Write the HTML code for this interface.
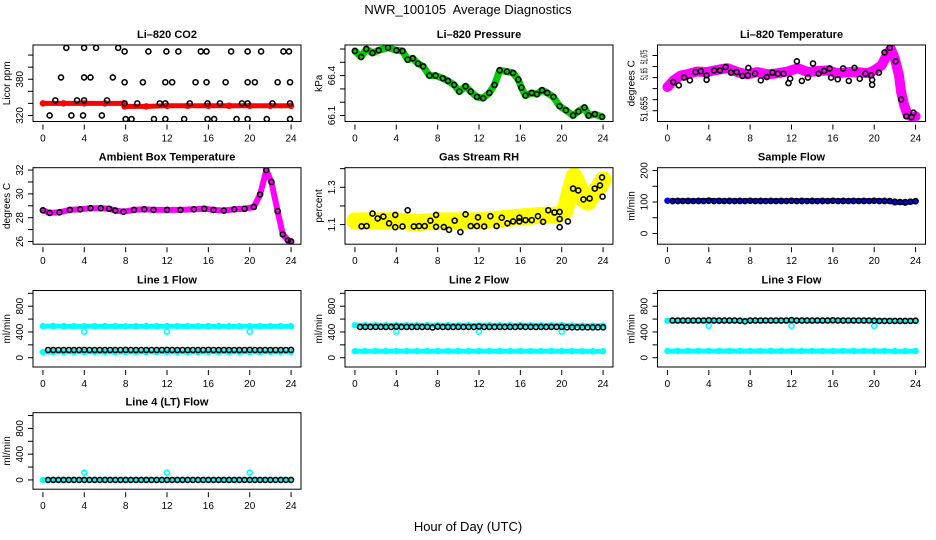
<!DOCTYPE html>
<html><head><meta charset="utf-8"><style>
html,body{margin:0;padding:0;background:#fff;}
svg{display:block;font-family:"Liberation Sans",sans-serif;}
</style></head><body>
<svg id="fig" width="936" height="540" viewBox="0 0 936 540">
<rect x="0" y="0" width="936" height="540" fill="#fff"/>
<text x="468" y="14" text-anchor="middle" font-size="13" xml:space="preserve">NWR_100105  Average Diagnostics</text>
<text x="468" y="531" text-anchor="middle" font-size="13">Hour of Day (UTC)</text>
</svg>
<script>
// ---------- data ----------
const xTicks=[0,4,8,12,16,20,24];
const hourly=[0,1,2,3,4,5,6,7,8,9,10,11,12,13,14,15,16,17,18,19,20,21,22,23,24];
const halfHours=[0.5,1,1.5,2,2.5,3,3.5,4,4.5,5,5.5,6,6.5,7,7.5,8,8.5,9,9.5,10,10.5,11,11.5,12,12.5,13,13.5,14,14.5,15,15.5,16,16.5,17,17.5,18,18.5,19,19.5,20,20.5,21,21.5,22,22.5,23,23.5,24];
const outlierHours=[4,12,20];

// CO2
const co2RedHours=[0,2,4,6,7.8,7.9,10,12,14,16,18,20,22,24];
const co2RedVals=[340,340,340,340,340,335,335,336,336,336,336,336,336,336];
const co2BlackHours=[0.65,1.2,1.75,2.26,2.75,3.3,3.88,3.98,3.98,3.98,4.6,5.14,5.7,6.2,6.76,7.28,7.9,7.9,7.9,8.0,8.57,9.12,9.67,10.2,10.74,11.3,11.84,11.84,11.84,11.94,12.5,13.1,13.66,14.2,14.76,15.27,15.82,15.82,15.92,15.92,16.56,17.12,17.67,18.2,18.73,19.25,19.8,19.8,19.8,19.8,20.5,21.1,21.65,22.2,22.7,23.26,23.8,23.9,23.9,23.9];
const co2BlackVals=[320,345,383,432,320,345,320,432,383,345,383,432,320,345,383,432,426,375,340,314,314,340,375,426,314,340,314,375,340,426,375,426,314,340,375,426,426,375,340,314,314,340,375,426,314,340,426,375,340,314,375,426,314,340,375,426,426,375,340,314];

// Pressure
const pressHours=[0,0.6,1.1,1.7,2.3,3.2,4.0,4.6,5.1,5.6,6.1,6.6,7.2,7.8,8.5,9.0,9.6,10.1,10.7,11.2,11.8,12.4,13.0,13.5,14.0,14.7,15.3,15.8,16.1,16.5,17.1,17.6,18.1,18.6,19.2,19.8,20.4,21.1,21.6,22.2,22.6,23.2,23.9];
const pressVals=[66.585,66.54,66.6,66.57,66.59,66.61,66.59,66.585,66.52,66.53,66.49,66.47,66.4,66.4,66.38,66.36,66.33,66.28,66.32,66.28,66.24,66.23,66.27,66.33,66.44,66.43,66.42,66.37,66.31,66.25,66.27,66.26,66.29,66.27,66.24,66.17,66.14,66.1,66.13,66.16,66.1,66.11,66.09];

// Li-820 temperature
const ltHours=[0,0.6,1.3,1.9,2.85,3.8,4.8,5.8,6.8,7.7,8.7,9.7,10.7,11.6,12.6,13.6,14.5,15.5,16.5,17.5,18.4,19.4,20.0,20.7,21.2,21.6,22.0,22.4,22.6,22.9,23.2,23.7,24.0];
const ltVals=[51.6636,51.666,51.6678,51.6682,51.6692,51.669,51.6698,51.6704,51.669,51.6682,51.669,51.6682,51.6686,51.6692,51.6704,51.669,51.6694,51.6696,51.6686,51.669,51.669,51.6686,51.6696,51.6714,51.675,51.6774,51.6738,51.6678,51.6618,51.657,51.6538,51.6526,51.653];
const ltBlackHours=[0.55,1.1,1.61,2.17,2.72,3.23,3.79,3.79,4.52,5.08,5.63,6.15,6.7,7.25,7.77,7.83,8.48,9.03,9.61,10.16,10.68,11.22,11.71,11.87,12.52,13.0,13.59,14.08,14.62,15.17,15.69,15.83,16.47,16.99,17.54,18.09,18.6,19.15,19.7,19.8,19.8,20.45,21.0,21.5,22.07,22.6,23.1,23.6,23.79];
const ltBlackVals=[51.6654,51.6642,51.667,51.666,51.669,51.6693,51.6678,51.6662,51.6696,51.6696,51.6708,51.6688,51.669,51.6676,51.6678,51.6705,51.6684,51.666,51.6672,51.6688,51.6684,51.6684,51.665,51.6666,51.6729,51.6658,51.667,51.6721,51.6684,51.6694,51.6703,51.667,51.6664,51.6703,51.6658,51.6705,51.6666,51.6684,51.6678,51.6662,51.6644,51.6688,51.6761,51.6778,51.6729,51.6591,51.653,51.6527,51.6543];

// Ambient box temperature
const ambHours=[0,0.65,1.6,2.6,3.6,4.6,5.6,6.4,7.0,7.8,8.8,9.8,10.7,12.0,13.3,14.6,15.6,16.5,17.5,18.5,19.5,20.4,21.0,21.6,22.1,22.7,23.2,23.7,24.0];
const ambVals=[28.62,28.4,28.45,28.65,28.7,28.8,28.8,28.75,28.6,28.5,28.65,28.7,28.65,28.65,28.65,28.7,28.75,28.65,28.6,28.7,28.75,28.9,29.95,32.0,31.0,28.55,26.6,26.1,26.0];

// Gas stream RH
const rhHours=[0,2,4,6,8,10,12,14,16,18,19.5,20.3,20.8,21.2,21.7,22,22.5,23,23.6,24];
const rhVals=[1.12,1.12,1.12,1.11,1.12,1.12,1.12,1.13,1.14,1.15,1.15,1.17,1.28,1.36,1.3,1.24,1.22,1.26,1.3,1.34];
const rhBlackHours=[0.64,1.13,1.7,2.2,2.75,3.3,3.9,3.9,4.6,5.1,5.7,6.2,6.75,7.3,7.85,7.85,8.6,9.1,9.65,10.2,10.7,11.2,11.8,11.9,12.5,13.1,13.7,14.2,14.75,15.3,15.9,15.9,16.5,17.1,17.7,18.2,18.7,19.3,19.8,19.8,19.8,20.6,21.1,21.6,22.1,22.7,23.2,23.7,23.9,23.95];
const rhBlackVals=[1.091,1.092,1.159,1.133,1.143,1.107,1.152,1.086,1.09,1.177,1.09,1.092,1.092,1.121,1.152,1.088,1.087,1.072,1.121,1.06,1.155,1.092,1.092,1.139,1.09,1.145,1.092,1.137,1.107,1.117,1.137,1.117,1.124,1.124,1.145,1.115,1.177,1.165,1.168,1.086,1.13,1.117,1.293,1.283,1.235,1.24,1.293,1.31,1.353,1.25];

// Sample flow
const sampleBlue=[104,104,104,104,105,104,104,104,104,104,104,104,104,104,104,104,104,104,104,104,104,104,99,98,102];
const sampleBlack=[103,103,103,103,103,103,103,104,103,103,103,103,103,103,103,104,103,103,103,103,103,103,103,104,103,103,103,103,103,103,103,104,103,103,103,103,103,103,103,104,103,103,103,101,100,100,101,103];

// Line flows
const line1CyanHigh=[490,492,490,490,488,490,490,490,488,488,490,490,490,490,488,490,490,490,488,488,488,490,490,490,490];
const line1CyanLow=[88,90,90,90,90,90,90,90,90,90,90,90,90,90,90,90,90,90,90,90,90,90,90,90,90];
const line1Black=[120,120,120,120,120,120,120,122,120,120,120,120,120,120,120,122,120,120,120,120,120,120,120,122,120,120,120,120,120,120,120,122,120,120,120,120,120,120,120,122,120,120,120,120,120,120,120,122];
const line1Outliers=[405,405,405];

const line2CyanHigh=[505,505,505,505,505,505,505,505,505,505,505,505,505,505,505,505,505,505,505,505,505,500,498,498,498];
const line2CyanLow=[103,103,103,103,103,103,103,103,103,103,103,103,103,103,103,103,103,103,103,103,103,103,100,100,100];
const line2Black=[478,478,478,478,478,478,478,482,478,478,478,478,478,478,470,482,478,478,478,478,478,478,478,485,478,478,478,478,478,478,478,482,478,478,478,478,478,478,478,478,472,472,472,472,472,472,472,472];
const line2Outliers=[405,405,405];

const line3CyanHigh=[575,575,575,575,575,575,575,575,575,575,575,575,575,575,575,575,575,575,575,575,575,570,570,570,570];
const line3CyanLow=[105,105,105,105,105,105,105,105,105,105,105,105,105,105,105,105,105,105,105,105,105,105,102,102,105];
const line3Black=[578,578,578,578,578,578,578,582,578,578,578,578,578,575,565,578,578,578,578,578,578,578,578,585,578,578,578,578,578,578,578,582,578,578,578,578,578,578,578,575,572,572,572,572,572,572,572,575];
const line3Outliers=[495,495,495];

const line4Cyan=[0,0,0,0,0,0,0,0,0,0,0,0,0,0,0,0,0,0,0,0,0,0,0,0,0];
const line4Black=[0,0,0,0,0,0,0,0,0,0,0,0,0,0,0,0,0,0,0,0,0,0,0,0,0,0,0,0,0,0,0,0,0,0,0,0,0,0,0,0,0,0,0,0,0,0,0,0];
const line4Outliers=[115,115,115];

const flowTicks=[0,200,400,600,800,1000];
const flowLabels=["0","","400","","800",""];

// ---------- drawing ----------
const NS='http://www.w3.org/2000/svg';
const svg=document.getElementById('fig');
const colLeft=[33,345,657.5];
const rowTop=[45,167.7,290.5,412.7];
const PW=268, PH=76.5;

function mk(tag,attrs,parent,name){
  const el=document.createElementNS(NS,tag);
  for(const k in attrs) el.setAttribute(k,attrs[k]);
  
  
  parent.appendChild(el);
  return el;
}

function panel(col,row,cfg){
  const L=colLeft[col], T=rowTop[row], B=T+PH, R=L+PW;
  const g=mk('g',{},svg,cfg.name);
  const xs=h=>L+(h+0.96)*(PW/25.92);
  const ys=v=>B-(v-cfg.ymin)/(cfg.ymax-cfg.ymin)*PH;
  const clipId='clip'+col+row;
  const cp=mk('clipPath',{id:clipId},g,'plot-clip');
  mk('rect',{x:L,y:T,width:PW,height:PH},cp,'plot-clip-rect');
  const plot=mk('g',{'clip-path':'url(#'+clipId+')'},g,'plot-area');
  cfg.series.forEach(s=>{
    if(s.type==='band'){
      const pts=s.xs.map((h,i)=>xs(h).toFixed(1)+','+ys(s.ys[i]).toFixed(1)).join(' ');
      mk('polyline',{points:pts,fill:'none',stroke:s.color,'stroke-width':s.width,'stroke-linejoin':'round','stroke-linecap':'round'},plot,s.name);
      s.xs.forEach((h,i)=>{
        mk('circle',{cx:xs(h),cy:ys(s.ys[i]),r:2.5,fill:'none',stroke:s.color,'stroke-width':1.5},plot,s.name+'-point');
      });
    } else {
      s.xs.forEach((h,i)=>{
        mk('circle',{cx:xs(h),cy:ys(s.ys[i]),r:2.5,fill:'none',stroke:s.color,'stroke-width':1.6},plot,s.name);
      });
    }
  });
  mk('rect',{x:L,y:T,width:PW,height:PH,fill:'none',stroke:'#000','stroke-width':1},g,'plot-frame');
  mk('text',{x:(L+R)/2,y:T-7,'text-anchor':'middle','font-size':11,'font-weight':'bold'},g,'panel-title').textContent=cfg.title;
  cfg.ticks.forEach((v,i)=>{
    const y=ys(v);
    mk('line',{x1:L-5,x2:L,y1:y,y2:y,stroke:'#000','stroke-width':1},g,'y-tick');
    if(!cfg.labelSpecs && cfg.labels[i]){
      mk('text',{x:L-10,y:y,'text-anchor':'middle','font-size':10,transform:'rotate(-90 '+(L-10)+' '+y+')'},g,'y-tick-label').textContent=cfg.labels[i];
    }
  });
  if(cfg.labelSpecs){
    cfg.labelSpecs.forEach(sp=>{
      mk('text',{x:L-10,y:sp.y,'text-anchor':'middle','font-size':10,textLength:sp.len,lengthAdjust:'spacingAndGlyphs',transform:'rotate(-90 '+(L-10)+' '+sp.y+')'},g,'y-tick-label').textContent=sp.text;
    });
  }
  const yc=(T+B)/2;
  mk('text',{x:L-23,y:yc,'text-anchor':'middle','font-size':10,transform:'rotate(-90 '+(L-23)+' '+yc+')'},g,'y-axis-title').textContent=cfg.ylab;
  xTicks.forEach(h=>{
    const x=xs(h);
    mk('line',{x1:x,x2:x,y1:B+3,y2:B+8,stroke:'#000','stroke-width':1},g,'x-tick');
    mk('text',{x:x,y:B+20,'text-anchor':'middle','font-size':10},g,'x-tick-label').textContent=String(h);
  });
}

panel(0,0,{name:'co2-panel',title:'Li\u2013820 CO2',ylab:'Licor ppm',ymin:310,ymax:436.7,
  ticks:[320,340,360,380,400,420],labels:['320','','','380','',''],
  series:[{type:'band',xs:co2RedHours,ys:co2RedVals,color:'#ff0000',width:5,name:'co2-red-series'},
          {type:'pts',xs:co2BlackHours,ys:co2BlackVals,color:'#000',name:'co2-black-point'}]});
panel(1,0,{name:'pressure-panel',title:'Li\u2013820 Pressure',ylab:'kPa',ymin:66.055,ymax:66.63,
  ticks:[66.1,66.2,66.3,66.4,66.5,66.6],labels:['66.1','','','66.4','',''],
  series:[{type:'band',xs:pressHours,ys:pressVals,color:'#00cc00',width:7,name:'pressure-green-series'},
          {type:'pts',xs:pressHours,ys:pressVals,color:'#000',name:'pressure-black-point'}]});
panel(2,0,{name:'li820-temperature-panel',title:'Li\u2013820 Temperature',ylab:'degrees C',ymin:51.6511,ymax:51.6788,
  ticks:[51.655,51.659,51.663,51.667,51.671,51.675],labels:['51.655','','','51.65','','51.675'],
  labelSpecs:[{text:'51.675',y:57,len:14},{text:'51.65',y:74,len:12},{text:'51.655',y:109,len:25}],
  series:[{type:'band',xs:ltHours,ys:ltVals,color:'#ff00ff',width:10,name:'li820-temp-magenta-series'},
          {type:'pts',xs:ltBlackHours,ys:ltBlackVals,color:'#000',name:'li820-temp-black-point'}]});
panel(0,1,{name:'ambient-box-temperature-panel',title:'Ambient Box Temperature',ylab:'degrees C',ymin:25.77,ymax:32.2,
  ticks:[26,27,28,29,30,31,32],labels:['26','','28','','30','','32'],
  series:[{type:'band',xs:ambHours,ys:ambVals,color:'#ff00ff',width:6,name:'ambient-magenta-series'},
          {type:'pts',xs:ambHours,ys:ambVals,color:'#000',name:'ambient-black-point'}]});
panel(1,1,{name:'gas-stream-rh-panel',title:'Gas Stream RH',ylab:'percent',ymin:0.995,ymax:1.405,
  ticks:[1.1,1.2,1.3,1.4],labels:['1.1','','1.3',''],
  series:[{type:'band',xs:rhHours,ys:rhVals,color:'#ffff00',width:17,name:'rh-yellow-series'},
          {type:'pts',xs:rhBlackHours,ys:rhBlackVals,color:'#000',name:'rh-black-point'}]});
panel(2,1,{name:'sample-flow-panel',title:'Sample Flow',ylab:'ml/min',ymin:-34,ymax:209,
  ticks:[0,50,100,150,200],labels:['0','','100','','200'],
  series:[{type:'band',xs:hourly,ys:sampleBlue,color:'#0000ff',width:5,name:'sample-blue-series'},
          {type:'pts',xs:halfHours,ys:sampleBlack,color:'#000',name:'sample-black-point'}]});
panel(0,2,{name:'line1-flow-panel',title:'Line 1 Flow',ylab:'ml/min',ymin:-144,ymax:1044,ticks:flowTicks,labels:flowLabels,
  series:[{type:'band',xs:hourly,ys:line1CyanHigh,color:'#00ffff',width:5,name:'line1-cyan-high-series'},
          {type:'band',xs:hourly,ys:line1CyanLow,color:'#00ffff',width:5,name:'line1-cyan-low-series'},
          {type:'pts',xs:outlierHours,ys:line1Outliers,color:'#00ffff',name:'line1-cyan-outlier'},
          {type:'pts',xs:halfHours,ys:line1Black,color:'#000',name:'line1-black-point'}]});
panel(1,2,{name:'line2-flow-panel',title:'Line 2 Flow',ylab:'ml/min',ymin:-144,ymax:1044,ticks:flowTicks,labels:flowLabels,
  series:[{type:'band',xs:hourly,ys:line2CyanHigh,color:'#00ffff',width:5,name:'line2-cyan-high-series'},
          {type:'band',xs:hourly,ys:line2CyanLow,color:'#00ffff',width:5,name:'line2-cyan-low-series'},
          {type:'pts',xs:outlierHours,ys:line2Outliers,color:'#00ffff',name:'line2-cyan-outlier'},
          {type:'pts',xs:halfHours,ys:line2Black,color:'#000',name:'line2-black-point'}]});
panel(2,2,{name:'line3-flow-panel',title:'Line 3 Flow',ylab:'ml/min',ymin:-144,ymax:1044,ticks:flowTicks,labels:flowLabels,
  series:[{type:'band',xs:hourly,ys:line3CyanHigh,color:'#00ffff',width:5,name:'line3-cyan-high-series'},
          {type:'band',xs:hourly,ys:line3CyanLow,color:'#00ffff',width:5,name:'line3-cyan-low-series'},
          {type:'pts',xs:outlierHours,ys:line3Outliers,color:'#00ffff',name:'line3-cyan-outlier'},
          {type:'pts',xs:halfHours,ys:line3Black,color:'#000',name:'line3-black-point'}]});
panel(0,3,{name:'line4-flow-panel',title:'Line 4 (LT) Flow',ylab:'ml/min',ymin:-144,ymax:1044,ticks:flowTicks,labels:flowLabels,
  series:[{type:'band',xs:hourly,ys:line4Cyan,color:'#00ffff',width:5,name:'line4-cyan-series'},
          {type:'pts',xs:outlierHours,ys:line4Outliers,color:'#00ffff',name:'line4-cyan-outlier'},
          {type:'pts',xs:halfHours,ys:line4Black,color:'#000',name:'line4-black-point'}]});
</script>
</body></html>
